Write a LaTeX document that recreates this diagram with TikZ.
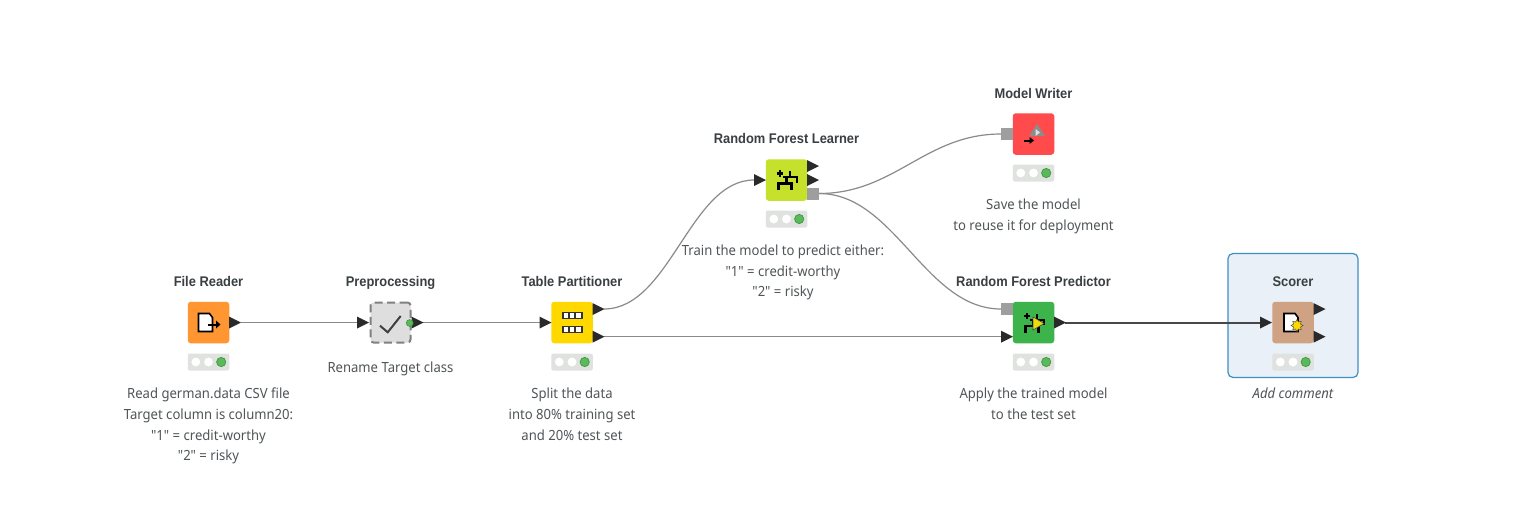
\documentclass[tikz,border=0pt]{standalone}
\usepackage{fontspec}
\newfontfamily\bodyfont[FakeStretch=0.935,ItalicFeatures={FakeStretch=0.935}]{Noto Sans}
\newfontfamily\ttlfont[FakeStretch=0.92,UprightFont={* Bold}]{Liberation Sans}
\usetikzlibrary{shapes.geometric}
\definecolor{txt}{HTML}{505558}
\definecolor{ttl}{HTML}{3A3F42}
\definecolor{wire}{HTML}{8A8A8A}
\definecolor{tri}{HTML}{2A2A2A}
\definecolor{portgray}{HTML}{9E9E9E}
\definecolor{cOrange}{HTML}{FF9632}
\definecolor{cYellow}{HTML}{FFD800}
\definecolor{cLime}{HTML}{C5E12B}
\definecolor{cRed}{HTML}{FF4B4B}
\definecolor{cGreen}{HTML}{3CB44B}
\definecolor{cTan}{HTML}{CFA284}
\definecolor{cFrame}{HTML}{3E8FC4}
\definecolor{cFrameFill}{HTML}{E9F0F7}
\definecolor{cTraffic}{HTML}{E0E2E0}
\definecolor{cLight}{HTML}{5CB85C}
\definecolor{cLightB}{HTML}{3F9F3F}
\tikzset{
  kbox/.style={rectangle,rounded corners=3pt,minimum size=41.5pt,inner sep=0pt},
  ttlnode/.style={font=\fontsize{14}{16}\selectfont\ttlfont,text=ttl,inner sep=0pt,anchor=base},
  cmt/.style={font=\fontsize{14}{20.7}\selectfont\bodyfont,text=txt,inner sep=0pt,align=center,anchor=north},
  lnk/.style={draw=wire,line width=1.2pt},
  lnkdark/.style={draw=black!72,line width=2pt},
  ic/.style={draw=black,line width=2.1pt,line cap=butt,line join=miter},
  port/.style={fill=portgray}
}
\newcommand{\tri}[2]{\fill[tri] (#1,#2-6) -- (#1+12,#2) -- (#1,#2+6) -- cycle;}
\newcommand{\gsq}[2]{\fill[port] (#1,#2-6) rectangle (#1+12,#2+6);}
\newcommand{\lights}[3]{%
  \node[rectangle,rounded corners=2pt,fill=cTraffic,minimum width=41.5pt,minimum height=17pt,inner sep=0pt] (#3) at (#1,#2) {};
  \fill[white] (#1-12.7,#2) circle (4.4);
  \fill[white] (#1,#2) circle (4.4);
  \fill[cLight,draw=cLightB,line width=.8pt] (#1+12.7,#2) circle (4.6);}
\newcommand{\treeicon}[2]{%
  \draw[ic] (#1-10,#2-6.5) -- ++(6.5,0) (#1-6.75,#2-9.7) -- ++(0,6.5);
  \draw[ic] (#1-4,#2-2.7) -- (#1+10.5,#2-2.7) -- (#1+10.5,#2+2.5);
  \draw[ic] (#1+3.5,#2-2.7) -- (#1+3.5,#2-9);
  \draw[ic] (#1,#2-2.7) -- (#1,#2+3.5);
  \draw[ic] (#1-8,#2+10) -- (#1-8,#2+3.5) -- (#1+5,#2+3.5) -- (#1+5,#2+10);}
\newcommand{\page}[2]{%
  \fill[white,draw=black,line width=1.6pt] (#1-10,#2-9) -- (#1+1,#2-9) -- (#1+4,#2-5) -- (#1+4,#2+9) -- (#1-10,#2+9) -- cycle;}
\begin{document}
\begin{tikzpicture}[x=1pt,y=-1pt]
\useasboundingbox (0,0) rectangle (1519,507);
\fill[white] (0,0) rectangle (1519,507);
% selection frame
\node[rectangle,rounded corners=5pt,draw=cFrame,fill=cFrameFill,line width=1.2pt,minimum width=130pt,minimum height=124pt,inner sep=0pt] (scorerframe) at (1293,315.5) {};
% port coordinates
\coordinate (frout) at (241,322.5);
\coordinate (ppin) at (357,322.5);
\coordinate (ppout) at (423,322.5);
\coordinate (tpin) at (539.5,322.5);
\coordinate (tpa) at (604,309);
\coordinate (tpb) at (604,336.7);
\coordinate (rflin) at (754,180);
\coordinate (rflm) at (819,193.5);
\coordinate (mwin) at (1001,134);
\coordinate (rfpm) at (1001,309);
\coordinate (rfpd) at (1001,336.7);
\coordinate (rfpout) at (1065,322.5);
\coordinate (scin) at (1260,322.5);
% connectors
\draw[lnk] (frout) -- (ppin);
\draw[lnk] (ppout) -- (tpin);
\draw[lnk] (tpa) .. controls (670,309) and (690,180) .. (rflin);
\draw[lnk] (tpb) -- (rfpd);
\draw[lnk] (rflm) .. controls (895,193.5) and (925,134) .. (mwin);
\draw[lnk] (rflm) .. controls (895,193.5) and (925,309) .. (rfpm);
\draw[lnkdark] (rfpout) -- (scin);
% File Reader
\node[kbox,fill=cOrange] (fr) at (208.5,322.5) {};
\node[ttlnode] (frt) at (208.5,286.5) {File Reader};
\tri{229}{322.5}
\page{208.5}{322.5}
\draw[line width=2pt,black] (208,324.5) -- (217,324.5);
\fill[black] (216,320.5) -- (220.5,324.5) -- (216,328.5) -- cycle;
\lights{208.5}{362}{frl}
\node[cmt] (frc) at (208.5,387.8) {Read german.data CSV file\\Target column is column20:\\"1" = credit-worthy\\"2" = risky};
% Preprocessing
\node[kbox,fill=black!13,draw=black!50,line width=2pt,dash pattern=on 8pt off 4.5pt,minimum size=40pt] (pp) at (390.5,322.5) {};
\node[ttlnode] (ppt) at (390.5,286.5) {Preprocessing};
\tri{411.5}{322.5}
\draw[black!75,line width=2pt] (380,325.7) -- (387.7,332.3) -- (400.7,316);
\fill[cLight,draw=cLightB,line width=.7pt] (409.7,323) circle (3.4);
\node[cmt] (ppc) at (390.5,361.3) {Rename Target class};
\tri{357}{322.5}
% Table Partitioner
\node[kbox,fill=cYellow] (tp) at (572,322.5) {};
\node[ttlnode] (tpt) at (572,286.5) {Table Partitioner};
\tri{539.5}{322.5}
\tri{592.5}{309}
\tri{592.5}{336.7}
\foreach \yy in {315.5,329.5}{
  \fill[black!80] (561.5,\yy-3.7) rectangle (582.5,\yy+3.7);
  \foreach \xx in {566,572,578.2}{\fill[white] (\xx-2.3,\yy-2.2) rectangle (\xx+2.3,\yy+2.2);}
}
\lights{572}{362}{tpl}
\node[cmt] (tpc) at (572,387.8) {Split the data\\into 80\% training set\\and 20\% test set};
% RF Learner
\node[kbox,fill=cLime] (rfl) at (786.5,180) {};
\node[ttlnode] (rflt) at (786.5,143.5) {Random Forest Learner};
\tri{754}{180}
\tri{807}{166}
\tri{807}{180}
\gsq{807}{193.5}
\treeicon{786.5}{180}
\lights{786.5}{219}{rfll}
\node[cmt] (rflc) at (783,244.5) {Train the model to predict either:\\"1" = credit-worthy\\"2" = risky};
% Model Writer
\node[kbox,fill=cRed] (mw) at (1033.5,134) {};
\node[ttlnode] (mwt) at (1033.5,98.5) {Model Writer};
\gsq{1001}{134}
\fill[black!45] (1037,124) -- (1045,136) -- (1029,136) -- cycle;
\fill[black!12] (1035.5,129) -- (1040,132.5) -- (1035.5,136) -- cycle;
\draw[line width=2pt,black] (1023.5,140.5) -- (1031,140.5);
\fill[black] (1029.5,137) -- (1034,140.5) -- (1029.5,144) -- cycle;
\lights{1033.5}{173}{mwl}
\node[cmt] (mwc) at (1033.5,199) {Save the model\\to reuse it for deployment};
% RF Predictor
\node[kbox,fill=cGreen] (rfp) at (1033.5,322.5) {};
\node[ttlnode] (rfpt) at (1033.5,286.5) {Random Forest Predictor};
\gsq{1001}{309}
\tri{1001}{336.7}
\tri{1054}{322.5}
\treeicon{1033.5}{322.5}
\fill[cYellow!70!cLime,draw=black!70,line width=.6pt] (1033,317) -- (1033,330) -- (1044,323.5) -- cycle;
\lights{1033.5}{362}{rfpl}
\node[cmt] (rfpc) at (1033.5,387.8) {Apply the trained model\\to the test set};
% Scorer
\node[kbox,fill=cTan] (sc) at (1293,322.5) {};
\node[ttlnode] (sct) at (1293,286.5) {Scorer};
\tri{1260}{322.5}
\tri{1313.5}{309}
\tri{1313.5}{336.7}
\page{1294}{322.5}
\node[star,star points=8,star point ratio=1.6,fill=cYellow,draw=black!70,line width=.5pt,minimum size=12pt,inner sep=0pt] (scs) at (1297,325.5) {};
\lights{1293}{362}{scl}
\node[cmt,font=\fontsize{14}{20.7}\selectfont\bodyfont\itshape] (scc) at (1293,387.8) {Add comment};
\end{tikzpicture}
\end{document}
